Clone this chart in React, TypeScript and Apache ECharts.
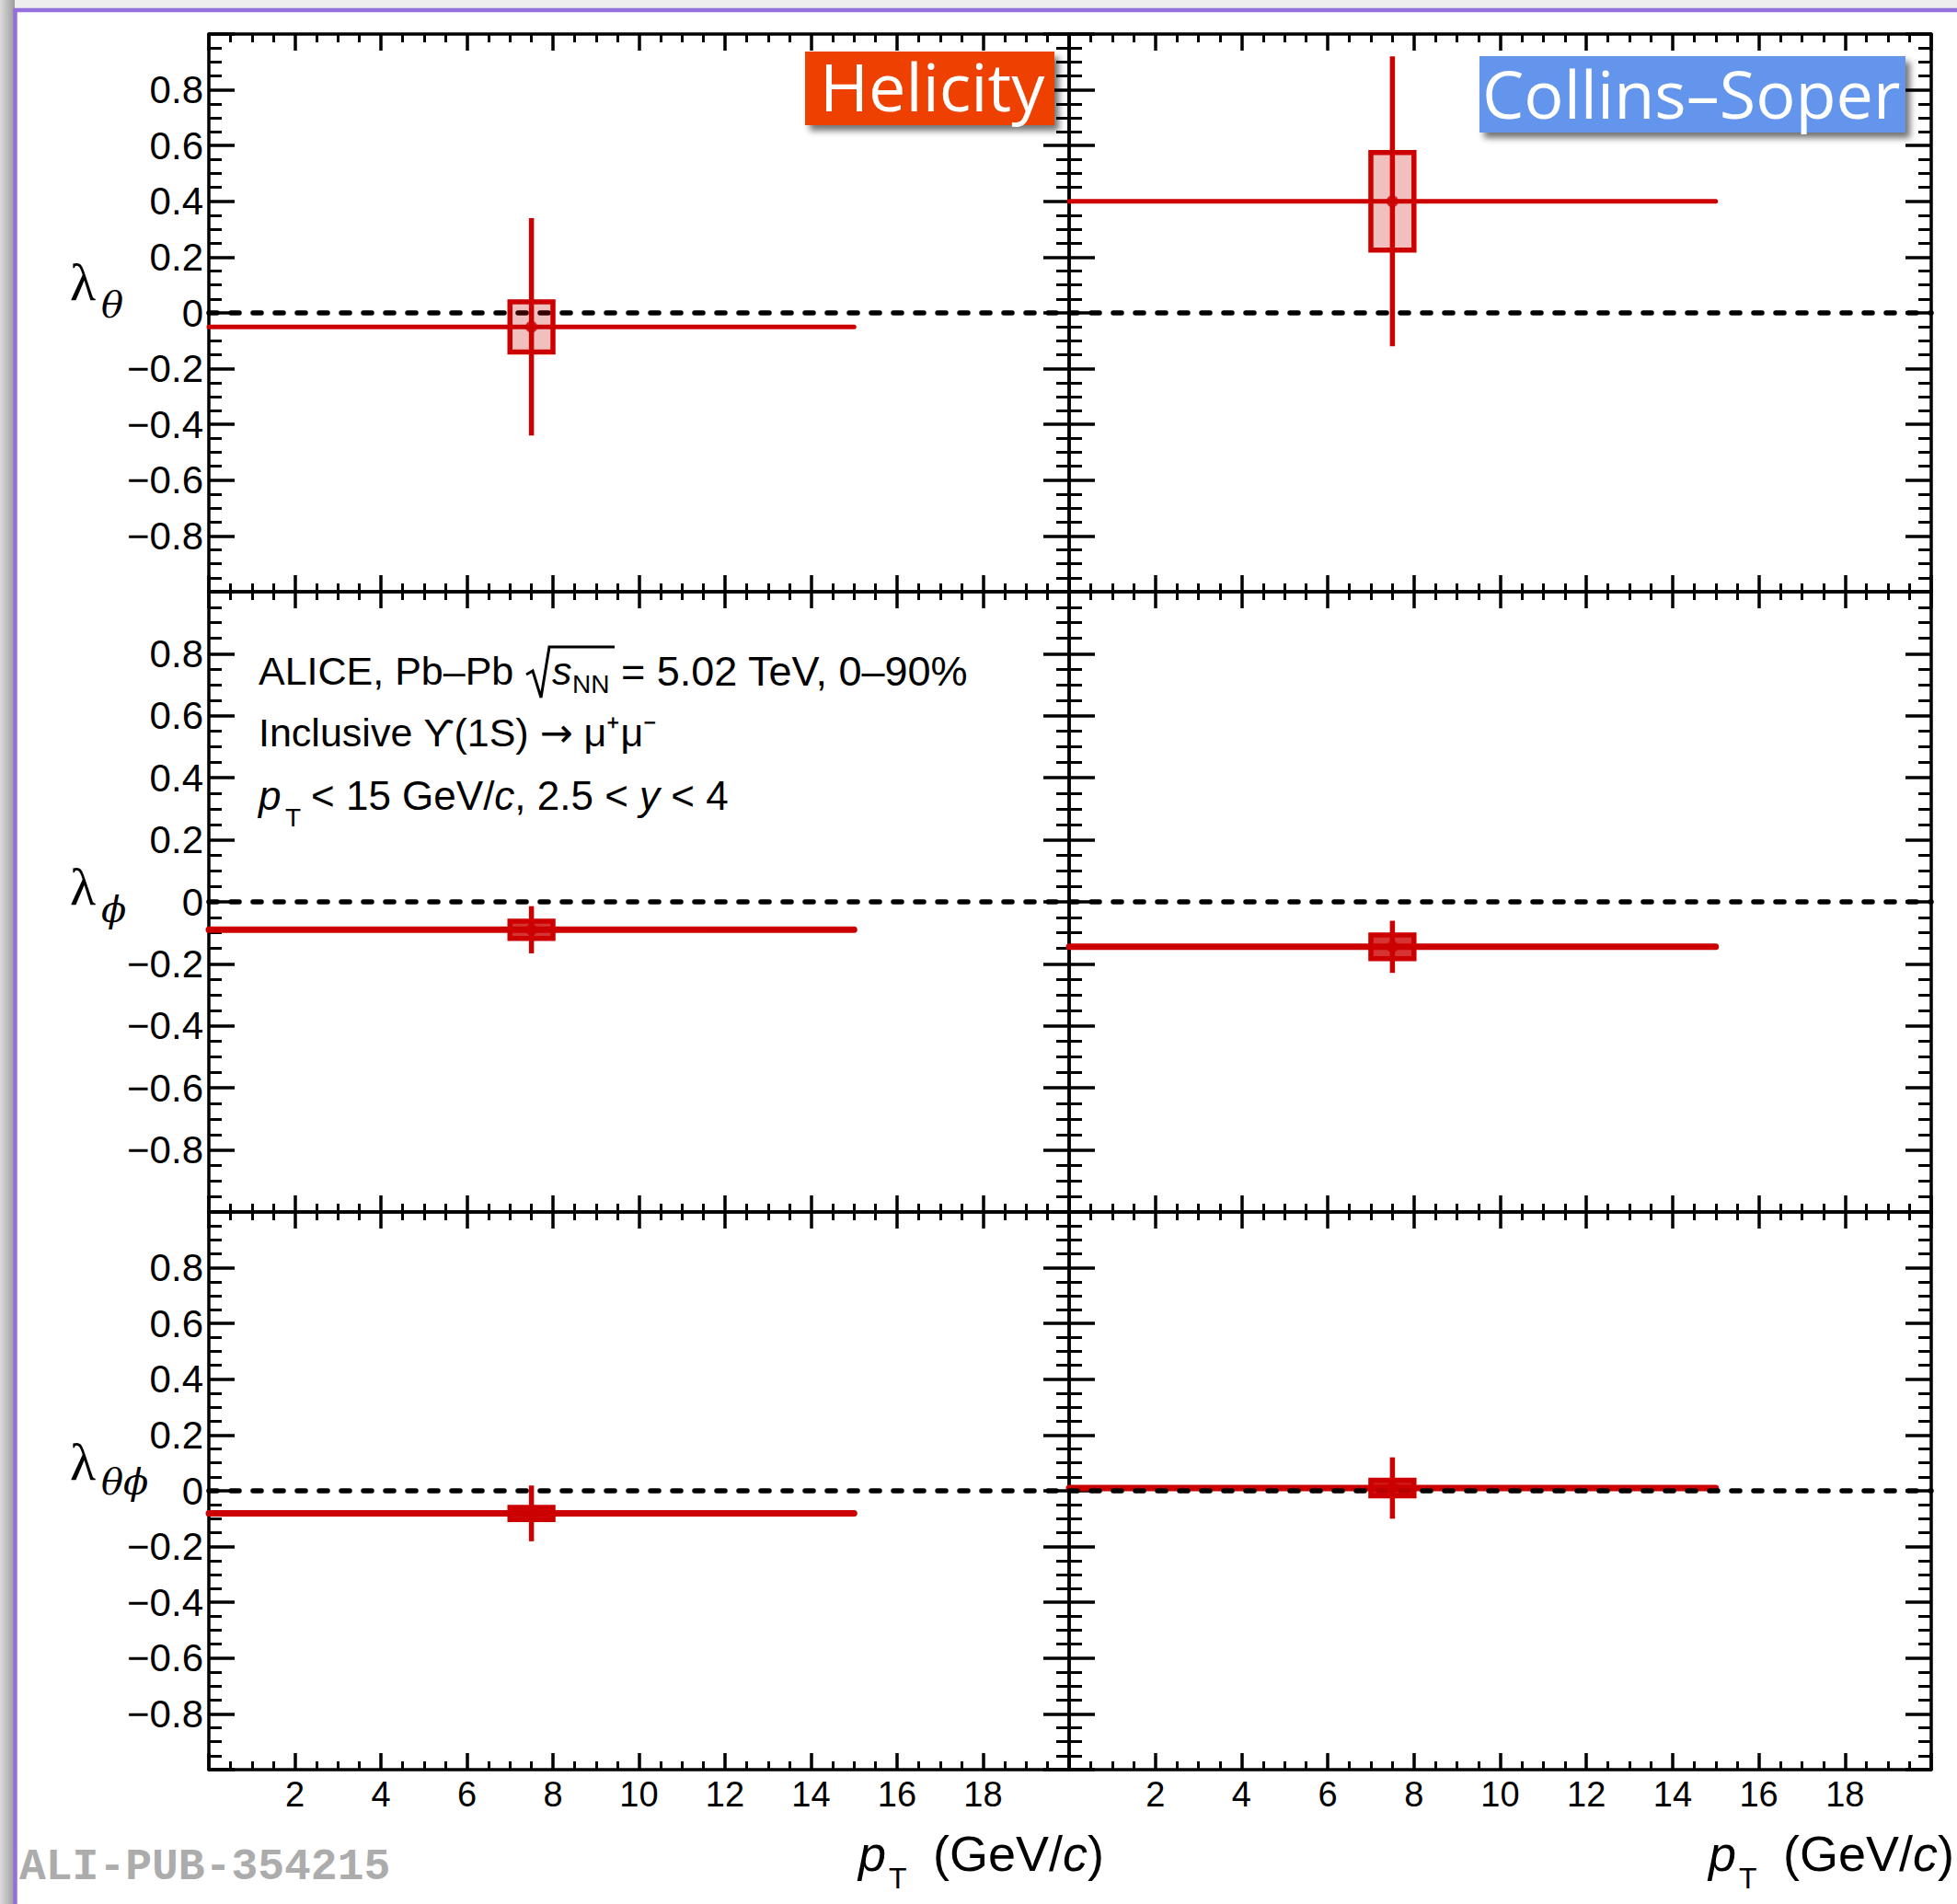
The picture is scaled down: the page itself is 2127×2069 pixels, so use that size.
import React, { useEffect, useRef } from 'react';
import * as echarts from 'echarts';

// ---------------- data ----------------
const frameNames = ['Helicity', 'Collins–Soper'];
const ptBinEdges = [0, 15];
const ptMean = 7.5;
const sysBoxHalfWidth = 0.5;
const xRange = [0, 20];
const yRange = [-1, 1];

// index 0 = Helicity, index 1 = Collins–Soper
const lambdaTheta = [-0.05, 0.4];
const lambdaThetaStat = [0.39, 0.52];
const lambdaThetaSys = [0.09, 0.175];

const lambdaPhi = [-0.09, -0.145];
const lambdaPhiStat = [0.076, 0.084];
const lambdaPhiSys = [0.028, 0.038];

const lambdaThetaPhi = [-0.081, 0.01];
const lambdaThetaPhiStat = [0.1, 0.11];
const lambdaThetaPhiSys = [0.022, 0.028];

const xTickValues = [2, 4, 6, 8, 10, 12, 14, 16, 18];
const xTickLabels = ['2', '4', '6', '8', '10', '12', '14', '16', '18'];
const yTickValues = [-0.8, -0.6, -0.4, -0.2, 0, 0.2, 0.4, 0.6, 0.8];
const yTickLabels = ['−0.8', '−0.6', '−0.4', '−0.2', '0', '0.2', '0.4', '0.6', '0.8'];

// ---------------- style / layout ----------------
const W = 2127;
const H = 2069;
const RED = '#cc0000';
const SANS = "'Liberation Sans', Arial, sans-serif";
const SERIF = "'Liberation Serif', 'DejaVu Serif', serif";
const COL_LEFT = [227, 1162];
const COL_WIDTH = [935, 937];
const ROW_TOP = [37, 643, 1317];
const ROW_HEIGHT = [606, 674, 606];
const H_LINE_WIDTH = [5, 7, 7];
const BOX_FILL = ['rgba(204,0,0,0.25)', 'rgba(204,0,0,0.8)', 'rgba(204,0,0,0.9)'];

const rows = [
  { value: lambdaTheta, stat: lambdaThetaStat, sys: lambdaThetaSys },
  { value: lambdaPhi, stat: lambdaPhiStat, sys: lambdaPhiSys },
  { value: lambdaThetaPhi, stat: lambdaThetaPhiStat, sys: lambdaThetaPhiSys },
];

const fmt = (vals: number[], labels: string[]) => (v: number) => {
  const i = vals.findIndex((t) => Math.abs(t - v) < 1e-6);
  return i >= 0 ? labels[i] : '';
};

function txt(x: number, y: number, text: string, size: number, extra: any = {}) {
  return {
    type: 'text',
    x,
    y,
    z: 100,
    silent: true,
    style: {
      text,
      fontSize: size,
      fontFamily: SANS,
      fill: '#000',
      align: 'left',
      verticalAlign: 'middle',
      textAlign: 'left',
      textVerticalAlign: 'middle',
      ...extra,
    },
  };
}

function buildOption() {
  const grids: any[] = [];
  const xAxes: any[] = [];
  const yAxes: any[] = [];
  const series: any[] = [];

  rows.forEach((row, r) => {
    [0, 1].forEach((c) => {
      const g = grids.length;
      grids.push({ left: COL_LEFT[c], top: ROW_TOP[r], width: COL_WIDTH[c], height: ROW_HEIGHT[r] });
      const xa = (position: string, showLabel: boolean) => ({
        type: 'value',
        gridIndex: g,
        position,
        min: xRange[0],
        max: xRange[1],
        interval: 2,
        axisLine: { show: true, onZero: false, lineStyle: { color: '#000', width: 3.5 } },
        axisTick: { show: true, inside: true, length: 18, lineStyle: { color: '#000', width: 3.5 } },
        minorTick: { show: true, splitNumber: 4, length: 9, lineStyle: { color: '#000', width: 3 } },
        splitLine: { show: false },
        minorSplitLine: { show: false },
        axisLabel: {
          show: showLabel,
          margin: 8,
          fontFamily: SANS,
          fontSize: 38,
          color: '#000',
          formatter: fmt(xTickValues, xTickLabels),
        },
      });
      const ya = (position: string, showLabel: boolean) => ({
        type: 'value',
        gridIndex: g,
        position,
        min: yRange[0],
        max: yRange[1],
        interval: 0.2,
        axisLine: { show: true, onZero: false, lineStyle: { color: '#000', width: 3.5 } },
        axisTick: { show: true, inside: true, length: 28, lineStyle: { color: '#000', width: 3.5 } },
        minorTick: { show: true, splitNumber: 4, length: 14, lineStyle: { color: '#000', width: 3 } },
        splitLine: { show: false },
        minorSplitLine: { show: false },
        axisLabel: {
          show: showLabel,
          margin: 6,
          fontFamily: SANS,
          fontSize: 42,
          color: '#000',
          formatter: fmt(yTickValues, yTickLabels),
        },
      });
      xAxes.push(xa('bottom', r === 2), xa('top', false));
      yAxes.push(ya('left', c === 0), ya('right', false));

      const v = row.value[c];
      const st = row.stat[c];
      const sy = row.sys[c];
      const hw = H_LINE_WIDTH[r];
      const boxFill = BOX_FILL[r];
      const axisIdx = { xAxisIndex: 2 * g, yAxisIndex: 2 * g };

      // statistical errors + bin width
      series.push({
        type: 'custom',
        ...axisIdx,
        z: 2,
        silent: true,
        data: [[ptMean, v, ptBinEdges[0], ptBinEdges[1], st, st]],
        renderItem: (_p: any, api: any) => {
          const xm = api.value(0);
          const yv = api.value(1);
          const a = api.coord([api.value(2), yv]);
          const b = api.coord([api.value(3), yv]);
          const t = api.coord([xm, yv + api.value(5)]);
          const u = api.coord([xm, yv - api.value(4)]);
          return {
            type: 'group',
            children: [
              { type: 'line', shape: { x1: a[0], y1: a[1], x2: b[0], y2: b[1] }, style: { stroke: RED, lineWidth: hw, lineCap: 'round' } },
              { type: 'line', shape: { x1: t[0], y1: t[1], x2: u[0], y2: u[1] }, style: { stroke: RED, lineWidth: 5.5 } },
            ],
          };
        },
      });
      // zero reference
      series.push({
        type: 'line',
        ...axisIdx,
        z: 3,
        silent: true,
        symbol: 'none',
        data: [[xRange[0], 0], [xRange[1], 0]],
        lineStyle: { color: '#000', width: 5.5, type: [9, 15], cap: 'round' },
      });
      // systematic box
      series.push({
        type: 'custom',
        ...axisIdx,
        z: 4,
        silent: true,
        data: [[ptMean, v, sy]],
        renderItem: (_p: any, api: any) => {
          const xm = api.value(0);
          const yv = api.value(1);
          const s = api.value(2);
          const p1 = api.coord([xm - sysBoxHalfWidth, yv + s]);
          const p2 = api.coord([xm + sysBoxHalfWidth, yv - s]);
          return {
            type: 'rect',
            shape: { x: p1[0], y: p1[1], width: p2[0] - p1[0], height: p2[1] - p1[1] },
            style: { fill: boxFill, stroke: RED, lineWidth: 5.5 },
          };
        },
      });
      // marker
      series.push({
        type: 'scatter',
        ...axisIdx,
        z: 5,
        silent: true,
        symbol: 'circle',
        symbolSize: 13,
        itemStyle: { color: RED },
        data: [[ptMean, v]],
      });
    });
  });

  const graphic: any[] = [
    // page background & purple frame
    { type: 'rect', z: -100, silent: true, shape: { x: 0, y: 0, width: W, height: H }, style: { fill: '#eeeeee' } },
    {
      type: 'rect', z: -99, silent: true, shape: { x: 0, y: 0, width: 16, height: H },
      style: { fill: new echarts.graphic.LinearGradient(0, 0, 1, 0, [{ offset: 0, color: '#dcdcdc' }, { offset: 1, color: '#9c9c9c' }]) },
    },
    { type: 'rect', z: -98, silent: true, shape: { x: 16.5, y: 11, width: 3000, height: 3000 }, style: { fill: '#ffffff', stroke: '#9370db', lineWidth: 4.5 } },

    // frame labels
    { type: 'rect', z: 90, silent: true, shape: { x: 875, y: 56, width: 271, height: 80 },
      style: { fill: '#ee4000', shadowBlur: 7, shadowOffsetX: 5, shadowOffsetY: 6, shadowColor: 'rgba(0,0,0,0.55)' } },
    txt(891, 93, frameNames[0], 72, { fontFamily: "'Open Sans', sans-serif", fill: '#ffffff' }),
    { type: 'rect', z: 90, silent: true, shape: { x: 1608, y: 61, width: 463, height: 83 },
      style: { fill: '#6495ed', shadowBlur: 7, shadowOffsetX: 5, shadowOffsetY: 6, shadowColor: 'rgba(0,0,0,0.55)' } },
    txt(1611, 101, frameNames[1], 72, { fontFamily: "'Open Sans', sans-serif", fill: '#ffffff' }),

    // y-axis titles
    txt(76, 306, 'λ', 58, { fontFamily: SERIF }),
    txt(110, 331, 'θ', 40, { fontFamily: "'DejaVu Serif', serif", fontStyle: 'italic' }),
    txt(76, 963, 'λ', 58, { fontFamily: SERIF }),
    txt(110, 988, 'ϕ', 40, { fontFamily: "'DejaVu Serif', serif", fontStyle: 'italic' }),
    txt(76, 1588, 'λ', 58, { fontFamily: SERIF }),
    txt(110, 1610, 'θϕ', 40, { fontFamily: "'DejaVu Serif', serif", fontStyle: 'italic' }),

    // annotation
    txt(281, 729, 'ALICE, Pb–Pb', 43),
    { type: 'polyline', z: 100, silent: true, shape: { points: [[572, 733], [579, 729], [588, 758], [597, 703], [668, 703]] },
      style: { stroke: '#000', lineWidth: 3, fill: null } },
    txt(600, 729, 's', 43, { fontStyle: 'italic' }),
    txt(622, 743, 'NN', 28),
    txt(675, 729, '= 5.02 TeV, 0–90%', 45),
    txt(281, 796, '{a|Inclusive ϒ(1S) }{b|→}{a| μ⁺μ⁻}', 43, {
      rich: {
        a: { fontFamily: SANS, fontSize: 43, fill: '#000' },
        b: { fontFamily: "'DejaVu Sans', sans-serif", fontSize: 43, fill: '#000' },
      },
    }),
    txt(281, 864, 'p', 44, { fontStyle: 'italic' }),
    txt(310, 888, 'T', 28),
    txt(338, 864, '{a|< 15 GeV/}{i|c}{a|, 2.5 < }{i|y}{a| < 4}', 44, {
      rich: {
        a: { fontFamily: SANS, fontSize: 44, fill: '#000' },
        i: { fontFamily: SANS, fontSize: 44, fill: '#000', fontStyle: 'italic' },
      },
    }),

    // x-axis titles
    txt(933, 2014, 'p', 54, { fontStyle: 'italic' }),
    txt(966, 2041, 'T', 32),
    txt(1200, 2014, '{a|(GeV/}{i|c}{a|)}', 54, {
      align: 'right', textAlign: 'right',
      rich: {
        a: { fontFamily: SANS, fontSize: 54, fill: '#000' },
        i: { fontFamily: SANS, fontSize: 54, fill: '#000', fontStyle: 'italic' },
      },
    }),
    txt(1857, 2014, 'p', 54, { fontStyle: 'italic' }),
    txt(1890, 2041, 'T', 32),
    txt(2124, 2014, '{a|(GeV/}{i|c}{a|)}', 54, {
      align: 'right', textAlign: 'right',
      rich: {
        a: { fontFamily: SANS, fontSize: 54, fill: '#000' },
        i: { fontFamily: SANS, fontSize: 54, fill: '#000', fontStyle: 'italic' },
      },
    }),

    // watermark
    txt(21, 2029, 'ALI-PUB-354215', 48, { fontFamily: "'Liberation Mono', monospace", fontWeight: 'bold', fill: '#acacac' }),
  ];

  return {
    animation: false,
    backgroundColor: 'transparent',
    grid: grids,
    xAxis: xAxes,
    yAxis: yAxes,
    series,
    graphic: { elements: graphic },
  };
}

export default function App() {
  const ref = useRef<HTMLDivElement>(null);
  useEffect(() => {
    if (!ref.current) return;
    const chart = echarts.init(ref.current, undefined, { renderer: 'svg' });
    chart.setOption(buildOption() as any);
    return () => chart.dispose();
  }, []);
  return <div ref={ref} style={{ position: 'absolute', left: 0, top: 0, width: W, height: H }} />;
}
